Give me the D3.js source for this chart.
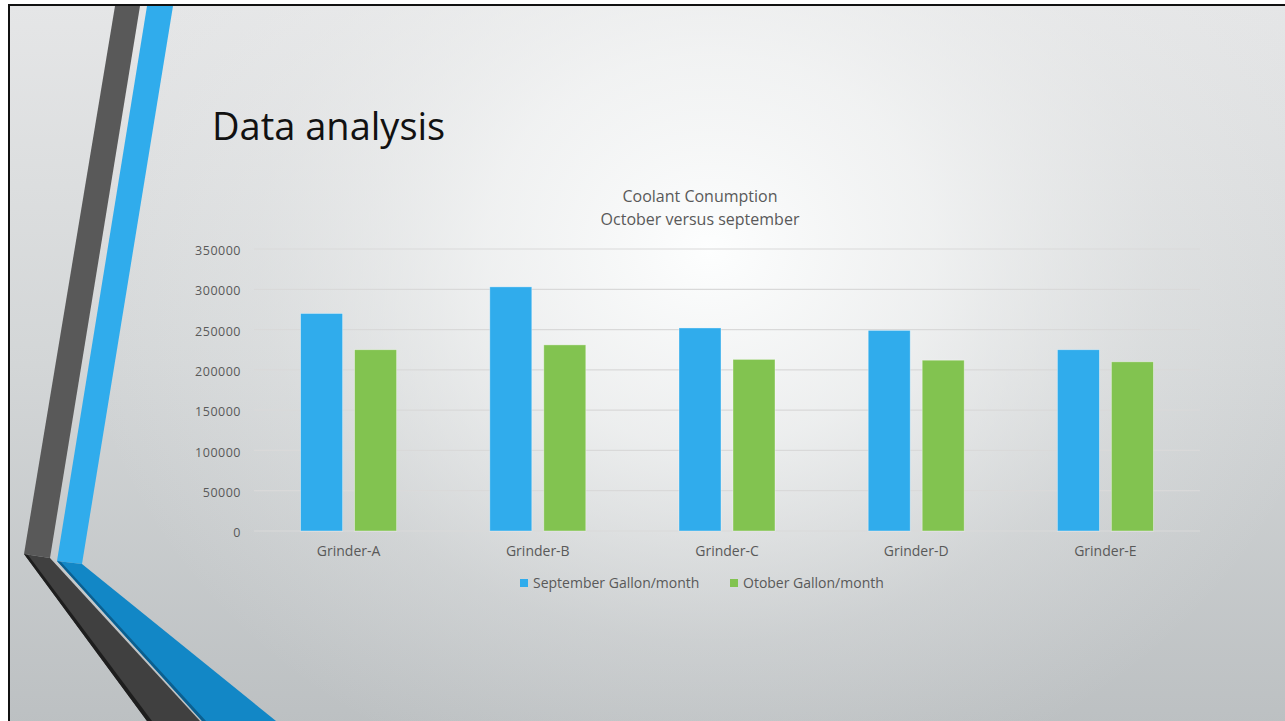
<!DOCTYPE html>
<html><head><meta charset="utf-8">
<script src="https://cdn.jsdelivr.net/npm/d3@7"></script>
<style>html,body{margin:0;padding:0;overflow:hidden;background:#fff}</style>
</head><body>
<script>
const categories = ["Grinder-A","Grinder-B","Grinder-C","Grinder-D","Grinder-E"];
const seriesNames = ["September Gallon/month","Otober Gallon/month"];
const september = [270000, 303000, 252000, 249000, 225000];
const october = [225000, 231000, 213000, 212000, 210000];
const yTicks = [0,50000,100000,150000,200000,250000,300000,350000];
const slideTitle = "Data analysis";
const chartTitle = ["Coolant Conumption","October versus september"];
const colors = ["#30acec","#82c350"];

const W = 1285, H = 721;
const svg = d3.select("body").append("svg").attr("width", W).attr("height", H);
const defs = svg.append("defs");
const lg = defs.append("linearGradient").attr("id","bgv").attr("x1",0).attr("y1",0).attr("x2",0).attr("y2",1);
lg.append("stop").attr("offset","0").attr("stop-color","#e5e6e7");
lg.append("stop").attr("offset","0.5").attr("stop-color","#d3d6d7");
lg.append("stop").attr("offset","1").attr("stop-color","#bcc0c2");
const rg = defs.append("radialGradient").attr("id","glow")
  .attr("gradientUnits","userSpaceOnUse").attr("cx",710).attr("cy",250).attr("r",560)
  .attr("fx",710).attr("fy",250).attr("gradientTransform","translate(710,250) scale(1.15,1) translate(-710,-250)");
rg.append("stop").attr("offset","0").attr("stop-color","#fdfefe").attr("stop-opacity",1);
rg.append("stop").attr("offset","0.35").attr("stop-color","#f6f7f7").attr("stop-opacity",0.75);
rg.append("stop").attr("offset","0.7").attr("stop-color","#eeefef").attr("stop-opacity",0.25);
rg.append("stop").attr("offset","1").attr("stop-color","#e8e9ea").attr("stop-opacity",0);

svg.append("rect").attr("width",W).attr("height",H).attr("fill","#fff");
svg.append("rect").attr("x",9).attr("y",5).attr("width",W).attr("height",H).attr("fill","url(#bgv)");
svg.append("rect").attr("x",9).attr("y",5).attr("width",W).attr("height",H).attr("fill","url(#glow)");
// slide border (top & left)
svg.append("line").attr("x1",8).attr("x2",W).attr("y1",5).attr("y2",5).attr("stroke","#111").attr("stroke-width",2);
svg.append("line").attr("x1",9).attr("x2",9).attr("y1",4).attr("y2",H).attr("stroke","#111").attr("stroke-width",2);

// decorative stripes
const deco = svg.append("g");
const poly = (pts, fill) => deco.append("polygon").attr("points", pts.map(p=>p.join(",")).join(" ")).attr("fill", fill);
poly([[147,6],[173,6],[82,564],[57,561]], "#30acec");
poly([[115,6],[140,6],[50,558],[24,554]], "#595959");
poly([[57,561],[82,564],[276,721],[202,721]], "#1287c6");
poly([[57,561],[61,562],[206,721],[202,721]], "#0b5f8f");
poly([[24,554],[50,558],[200,721],[147,721]], "#404040");
poly([[24,554],[28,555],[152,721],[147,721]], "#1e1e1e");

const font = "'Open Sans', Lato, sans-serif";
// slide title
svg.append("text").attr("x",212).attr("y",140).text(slideTitle)
  .attr("font-family",font).attr("font-size",38).attr("fill","#111");

// chart
const x0 = d3.scaleBand().domain(categories).range([254,1200]).paddingInner(0).paddingOuter(0);
const groupPad = 46.6;
const x1 = d3.scaleBand().domain(seriesNames).range([groupPad, x0.bandwidth()-groupPad]).paddingInner(0.222).paddingOuter(0);
const y = d3.scaleLinear().domain([0,350000]).range([531,249]);

const g = svg.append("g");
// gridlines
g.selectAll("line.grid").data(yTicks).join("line")
  .attr("x1",254).attr("x2",1200).attr("y1",d=>y(d)).attr("y2",d=>y(d))
  .attr("stroke","#d9d9d9").attr("stroke-width",1.2);

// y axis labels
const yAxis = d3.axisLeft(y).tickValues(yTicks).tickSize(0).tickPadding(0).tickFormat(d3.format("d"));
const ya = svg.append("g").attr("transform","translate(241,0)").call(yAxis);
ya.select(".domain").remove();
ya.selectAll("text").attr("font-family",font).attr("font-size",12.5).attr("letter-spacing","0.5px")
  .attr("fill","#595959").attr("dy","0.45em");

// x axis labels
const xAxis = d3.axisBottom(x0).tickSize(0).tickPadding(0);
const xa = svg.append("g").attr("transform","translate(0,546)").call(xAxis);
xa.select(".domain").remove();
xa.selectAll("text").attr("font-family",font).attr("font-size",14).attr("fill","#595959");

// bars
const data = categories.map((c,i)=>({cat:c, vals:[september[i], october[i]]}));
const groups = g.selectAll("g.cat").data(data).join("g").attr("transform",d=>`translate(${x0(d.cat)},0)`);
groups.selectAll("rect").data(d=>d.vals.map((v,j)=>({name:seriesNames[j], v, j}))).join("rect")
  .attr("x",d=>x1(d.name)).attr("width",x1.bandwidth())
  .attr("y",d=>y(d.v)).attr("height",d=>y(0)-y(d.v))
  .attr("fill",d=>colors[d.j]).attr("stroke","rgba(255,255,255,0.45)").attr("stroke-width",0.8);

// chart title
svg.append("text").attr("x",700).attr("y",202).attr("text-anchor","middle").text(chartTitle[0])
  .attr("font-family",font).attr("font-size",16).attr("fill","#595959");
svg.append("text").attr("x",700).attr("y",225).attr("text-anchor","middle").text(chartTitle[1])
  .attr("font-family",font).attr("font-size",16).attr("fill","#595959");

// legend
const legX = [520, 730];
const leg = svg.append("g");
seriesNames.forEach((n,i)=>{
  leg.append("rect").attr("x",legX[i]).attr("y",579).attr("width",8).attr("height",8).attr("fill",colors[i]);
  leg.append("text").attr("x",legX[i]+13).attr("y",588).text(n)
    .attr("font-family",font).attr("font-size",14).attr("fill","#595959");
});
</script>
</body></html>
